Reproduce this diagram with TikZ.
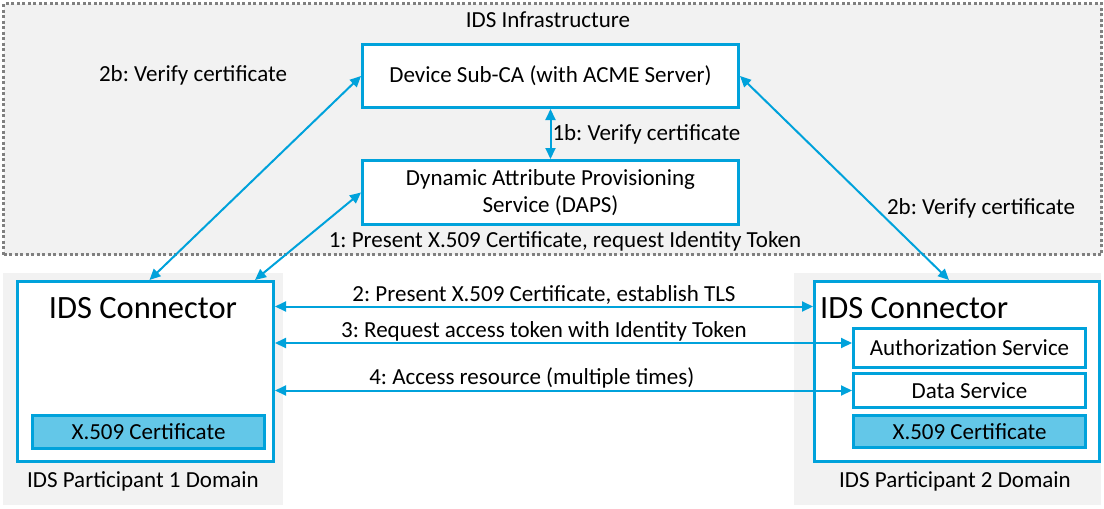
\documentclass[tikz,border=0pt]{standalone}
\usepackage{fontspec}
\setmainfont{Carlito}
\frenchspacing
\usetikzlibrary{arrows.meta}
\usetikzlibrary{positioning}
\definecolor{idsblue}{RGB}{0,162,219}
\definecolor{certblue}{RGB}{99,199,232}
\definecolor{areagray}{RGB}{242,242,242}
\definecolor{dashgray}{RGB}{128,128,128}
\tikzset{>={Triangle[length=11pt,width=10pt]}}
\tikzset{
  box/.style={draw=idsblue, line width=3pt, fill=white, inner sep=0pt, anchor=north west},
  certbox/.style={box, fill=certblue},
  area/.style={fill=areagray, inner sep=0pt, anchor=north west},
  flow/.style={<->, draw=idsblue, line width=2pt},
  txt/.style={font=\fontsize{23}{27}\selectfont, inner sep=1pt},
  bigtxt/.style={font=\fontsize{32.5}{38}\selectfont, inner sep=0pt},
}

\begin{document}
\begin{tikzpicture}[x=1pt,y=1pt,yscale=-1,xscale=1]
\useasboundingbox (0,0) rectangle (1104,509);

%Shape: Rectangle, infrastructure
\node[area, draw=dashgray, line width=3pt, dash pattern={on 3pt off 2.5pt}, minimum width=1098, minimum height=251] (infra) at (2,2) {};
\node[txt] (infratitle) at (548,20) {IDS Infrastructure};

%Shape: Rectangle, participant domains
\node[area, minimum width=280, minimum height=232] (dom1) at (3,273) {};
\node[area, minimum width=307, minimum height=232] (dom2) at (794,273) {};
\node[txt] (dom1title) at (143,481) {IDS Participant 1 Domain};
\node[txt] (dom2title) at (955,481) {IDS Participant 2 Domain};

%Shape: Rectangle, infrastructure services
\node[box, txt, inner sep=0pt, minimum width=376, minimum height=63] (subca) at (361,43) {Device Sub-CA (with ACME Server)};
\node[box, txt, inner sep=0pt, align=center, minimum width=376, minimum height=64] (daps) at (361,159) {Dynamic Attribute Provisioning\\Service (DAPS)};

%Shape: Rectangle, connectors
\node[box, minimum width=256, minimum height=180] (conn1) at (16,280) {};
\node[bigtxt] (conn1title) at (143,308) {IDS Connector};
\node[certbox, txt, inner sep=0pt, minimum width=232, minimum height=33] (cert1) at (31,414) {X.509 Certificate};

\node[box, minimum width=285, minimum height=180] (conn2) at (813,280) {};
\node[bigtxt, anchor=west] (conn2title) at (820,308) {IDS Connector};
\node[box, txt, inner sep=0pt, minimum width=232, minimum height=39] (auth) at (852,327) {Authorization Service};
\node[box, txt, inner sep=0pt, minimum width=232, minimum height=34] (data) at (852,372) {Data Service};
\node[certbox, txt, inner sep=0pt, minimum width=232, minimum height=32] (cert2) at (852,414) {X.509 Certificate};

%Straight Lines, verification
\draw[flow] (subca.south) -- (daps.north) node[midway, right, txt] (lbl1b) {1b: Verify certificate};
\draw[flow] ([xshift=4pt]conn1.north) -- (subca.west);
\node[txt] (lbl2bl) at (193,75) {2b: Verify certificate};
\draw[flow] (subca.east) -- ([xshift=-8pt]conn2.north);
\node[txt] (lbl2br) at (981,208) {2b: Verify certificate};
\draw[flow] ([xshift=-20pt]conn1.north east) -- (daps.west);
\node[txt] (lbl1) at (565,241) {1: Present X.509 Certificate, request Identity Token};

%Straight Lines, connector to connector
\coordinate (p2) at ([yshift=-65pt]conn2.west);
\draw[flow] (p2 -| conn1.east) -- (p2) node[midway, above, txt] (lbl2) {2: Present X.509 Certificate, establish TLS};
\coordinate (p3) at ([yshift=-5pt]auth.west);
\draw[flow] (p3 -| conn1.east) -- (p3) node[pos=0.466, above, txt] (lbl3) {3: Request access token with Identity Token};
\draw[flow] (data.west -| conn1.east) -- (data.west) node[pos=0.445, above, txt] (lbl4) {4: Access resource (multiple times)};
\end{tikzpicture}
\end{document}
